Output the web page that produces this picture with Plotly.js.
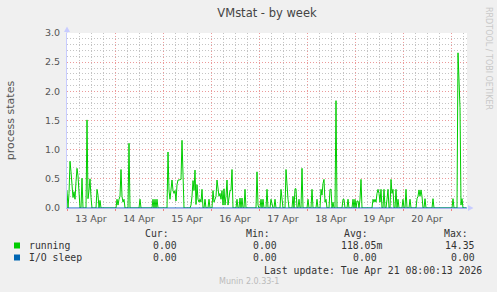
<!DOCTYPE html>
<html><head><meta charset="utf-8">
<script src="https://cdn.plot.ly/plotly-3.0.1.min.js"></script>
<style>html,body{margin:0;padding:0;background:#f0f0f0;}#chart{width:497px;height:292px;}</style>
</head><body><div id="chart"></div>
<script>
// ---- data ----
const startTime = '2026-04-13 00:00';
const endTime = '2026-04-21 08:00';
const stepMs = 1800000; // 30-minute samples
const running = [
0.30,0,0.25,0.80,0.62,0.45,0.18,0.28,0.15,0.45,0.68,0.55,0.2,0,0,0.51,0,0,0,0,
1.51,0.16,0.30,0.50,0.18,0,0,0,0,0,0.32,0.22,0,0.13,0,0,0,0,0,0,
0,0,0,0,0,0,0,0,0,0,0.15,0.05,0.15,0.2,0.66,0.2,0.1,0.15,0,0,
0,0,1.11,0,0,0,0,0,0,0,0,0,0,0.15,0,0,0,0,0,0,
0,0,0,0,0,0,0.15,0,0.15,0,0.15,0,0,0,0,0,0,0,0,0,
0,0.96,0.3,0.15,0.3,0.48,0.3,0.25,0.3,0.12,0.4,0.48,0.48,0.48,0.49,1.16,0.3,0,0,0,
0,0,0,0,0.05,0.2,0.47,0.3,0.65,0.06,0.4,0.15,0.1,0.15,0.1,0.32,0,0,0.15,0,
0,0,0.15,0,0,0,0.3,0.1,0.15,0.2,0.48,0.3,0.2,0.25,0.15,0.3,0.05,0.33,0.05,0.2,
0.48,0.05,0.15,0.3,0.3,0.66,0,0,0,0,0.15,0,0,0.17,0,0.17,0,0,0.32,0,
0,0,0,0,0,0,0,0,0,0,0.62,0.05,0,0,0.15,0,0.15,0,0,0,
0.32,0,0,0,0.15,0.05,0,0,0.15,0,0,0,0,0,0.32,0.15,0,0,0,0.66,
0.3,0.15,0,0,0,0,0.2,0,0.33,0.33,0,0,0.15,0,0,0.68,0,0,0,0,
0,0.15,0,0,0,0.32,0,0,0,0,0.15,0,0,0,0.32,0.22,0.42,0.49,0.1,0.15,
0,0,0,0.32,0.32,0,0.1,0,0,1.84,0,0,0,0,0,0,0.15,0.15,0,0,
0,0.15,0,0,0,0,0.15,0,0.15,0,0.12,0.12,0,0.15,0.49,0,0,0,0,0,
0,0,0,0,0,0,0.15,0.1,0.15,0.1,0.25,0.32,0.25,0.1,0.32,0,0,0.32,0,0,
0.15,0.32,0,0,0.49,0.25,0.32,0,0,0.32,0,0.15,0,0,0,0,0.15,0,0,0.32,
0,0,0,0.15,0,0,0,0,0,0,0.16,0.2,0.31,0.2,0.31,0.2,0,0,0.16,0,
0,0,0,0,0,0,0.16,0,0,0,0,0,0,0,0,0,0,0,0,0,
0,0,0,0,0,0,0.16,0,0,0,0,2.66,2.2,1.72,0.05,0.16,0,0,0,0
];
const ioSleepTimes = [startTime, endTime];
const ioSleep = [0, 0];

const seriesNames = ['running', 'I/O sleep'];
const seriesColors = ['#00cc00', '#0066b3'];
const statHeaders = ['Cur:', 'Min:', 'Avg:', 'Max:'];
const statCur = ['0.00', '0.00'];
const statMin = ['0.00', '0.00'];
const statAvg = ['118.05m', '0.00'];
const statMax = ['14.35', '0.00'];
const lastUpdate = 'Last update: Tue Apr 21 08:00:13 2026';
const chartTitle = 'VMstat - by week';
const yTitle = 'process states';
const credit = 'RRDTOOL / TOBI OETIKER';
const version = 'Munin 2.0.33-1';

// ---- layout helpers (pixel -> paper) ----
const L = 67, R = 467, T = 33, B = 208;
const px = x => (x - L) / (R - L);
const py = y => (B - y) / (B - T);
const sans = 'DejaVu Sans', mono = 'DejaVu Sans Mono';

const traces = [
  {type:'scatter', mode:'lines', x0:startTime, dx:stepMs, y:running,
   line:{color:seriesColors[0], width:1}, hoverinfo:'skip'},
  {type:'scatter', mode:'lines', x:ioSleepTimes, y:ioSleep,
   line:{color:seriesColors[1], width:1}, hoverinfo:'skip'}
];

const ann = [];
function txt(text, x, y, opts) {
  ann.push(Object.assign({text:text, xref:'paper', yref:'paper', x:px(x), y:py(y),
    showarrow:false, xanchor:'left', yanchor:'middle',
    font:{family:mono, size:9.8, color:'#333'}}, opts || {}));
}
// stat headers
const headerRight = [171, 272, 370, 469.5];
statHeaders.forEach((h, i) => txt(h, headerRight[i], 233.5, {xanchor:'right'}));
// legend rows
const rowY = [245.5, 257.5];
const colRight = [[179, 279, 384, 477], [179, 279, 378.5, 477]];
seriesNames.forEach((n, r) => {
  txt(n, 26.5, rowY[r]);
  txt(statCur[r], colRight[r][0], rowY[r], {xanchor:'right'});
  txt(statMin[r], colRight[r][1], rowY[r], {xanchor:'right'});
  txt(statAvg[r], colRight[r][2], rowY[r], {xanchor:'right'});
  txt(statMax[r], colRight[r][3], rowY[r], {xanchor:'right'});
});
txt(lastUpdate, 483.5, 270, {xanchor:'right'});
txt(version, 248.5, 281.5, {xanchor:'center', font:{family:sans, size:8, color:'#bbbbbb'}});
txt(credit, 488.5, 5, {xanchor:'center', yanchor:'top', textangle:90, font:{family:sans, size:8, color:'#c8c8c8'}});

const shapes = [];
seriesNames.forEach((n, r) => {
  shapes.push({type:'rect', xref:'paper', yref:'paper', x0:px(14), x1:px(20), y0:py(rowY[r]+3), y1:py(rowY[r]-3),
    fillcolor:seriesColors[r], line:{width:0}});
});
// axis arrows
const arrowColor = '#c8ccff';
shapes.push({type:'path', xref:'paper', yref:'paper', fillcolor:arrowColor, line:{width:0},
  path:`M ${px(64)} ${py(32)} L ${px(67)} ${py(26.5)} L ${px(70)} ${py(32)} Z`});
shapes.push({type:'line', xref:'paper', yref:'paper', x0:px(67), x1:px(67), y0:py(33), y1:py(30), line:{color:arrowColor, width:1}});
shapes.push({type:'path', xref:'paper', yref:'paper', fillcolor:arrowColor, line:{width:0},
  path:`M ${px(468)} ${py(205)} L ${px(473.5)} ${py(208)} L ${px(468)} ${py(211)} Z`});

const gridMajor = '#ec9a9a', gridMinor = '#c4c4c4', dash = '1px,2px';
const layout = {
  width:497, height:292,
  margin:{l:L, r:497-R, t:T, b:292-B, pad:0},
  paper_bgcolor:'#f0f0f0', plot_bgcolor:'#ffffff',
  showlegend:false,
  title:{text:chartTitle, x:0.5, xref:'paper', xanchor:'center', y:1-13/292, yref:'container', yanchor:'middle',
         font:{family:sans, size:11.5, color:'#444'}},
  xaxis:{type:'date', range:[startTime, endTime], tick0:'2026-04-13', dtick:86400000,
         ticklabelmode:'period', tickformat:'%d %b',
         showgrid:true, gridcolor:gridMajor, griddash:dash, gridwidth:1,
         minor:{dtick:21600000, showgrid:true, gridcolor:gridMinor, griddash:dash, ticks:''},
         ticks:'outside', ticklen:2, tickcolor:'#f08080',
         showline:true, linecolor:'#aab4ee', linewidth:1, zeroline:false,
         tickfont:{family:sans, size:9.5, color:'#555'}, fixedrange:true},
  yaxis:{range:[0,3], tick0:0, dtick:0.5, tickformat:'.1f',
         showgrid:true, gridcolor:gridMajor, griddash:dash, gridwidth:1,
         minor:{dtick:0.1, showgrid:true, gridcolor:gridMinor, griddash:dash, ticks:''},
         ticks:'', showline:true, linecolor:arrowColor, linewidth:1, zeroline:false,
         ticklabelstandoff:4,
         tickfont:{family:sans, size:9.5, color:'#555'},
         title:{text:yTitle, font:{family:sans, size:11, color:'#555'}, standoff:28},
         fixedrange:true},
  annotations:ann, shapes:shapes
};
Plotly.newPlot('chart', traces, layout, {staticPlot:true, displayModeBar:false});
</script></body></html>
